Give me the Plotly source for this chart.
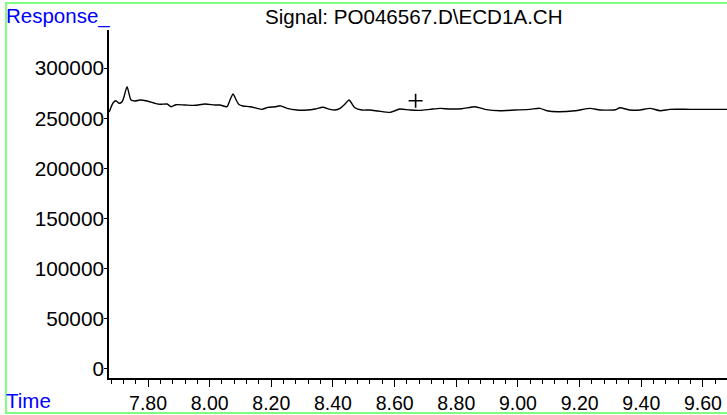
import plotly.graph_objects as go

# chromatogram trace (min, response)
time_min = [7.674, 7.687, 7.696, 7.706, 7.716, 7.722, 7.732, 7.745, 7.758, 7.774,
            7.797, 7.823, 7.839, 7.862, 7.875, 7.891, 7.920, 7.952, 7.985, 8.017,
            8.034, 8.056, 8.066, 8.076, 8.086, 8.095, 8.108, 8.131, 8.154, 8.170,
            8.189, 8.215, 8.228, 8.251, 8.283, 8.316, 8.342, 8.367, 8.390, 8.406,
            8.423, 8.439, 8.452, 8.462, 8.471, 8.494, 8.520, 8.546, 8.585, 8.601,
            8.617, 8.650, 8.682, 8.715, 8.747, 8.780, 8.818, 8.861, 8.893, 8.942,
            8.990, 9.039, 9.071, 9.094, 9.130, 9.185, 9.234, 9.266, 9.315, 9.331,
            9.363, 9.396, 9.428, 9.461, 9.493, 9.558, 9.623, 9.678]
response = [256200, 265500, 267500, 264900, 266500, 271200, 281500, 268200, 267200, 268200,
            267200, 264900, 263900, 264200, 261500, 263500, 263200, 262900, 264200, 263200,
            263200, 261500, 268200, 274200, 268200, 263700, 262200, 261500, 259900, 258900,
            260900, 261500, 262500, 259900, 258200, 258200, 259200, 260900, 258900, 258200,
            259900, 264200, 268200, 264200, 260500, 258200, 258200, 257200, 255900, 257500,
            259200, 258200, 257900, 258900, 259900, 259200, 259500, 261500, 258900, 257500,
            258200, 258900, 259900, 257500, 256500, 257500, 259900, 258200, 258500, 260500,
            258200, 258200, 259900, 257500, 258900, 258900, 258900, 258900]

marker_time = [8.668]
marker_response = [267500]

signal_name = "Signal: PO046567.D\\ECD1A.CH"

FONT = "Liberation Sans, Arial, sans-serif"

fig = go.Figure()
fig.add_trace(go.Scatter(x=time_min, y=response, mode="lines",
                         line=dict(color="black", width=1.4, shape="spline", smoothing=0.6),
                         showlegend=False))
fig.add_trace(go.Scatter(x=marker_time, y=marker_response, mode="markers",
                         marker=dict(symbol="cross-thin", size=10,
                                     line=dict(color="black", width=1.6)),
                         showlegend=False))

fig.update_layout(
    width=727, height=415,
    margin=dict(l=109, r=0, t=30, b=37),
    plot_bgcolor="white", paper_bgcolor="white",
    font=dict(family=FONT, size=20.5, color="black"),
    xaxis=dict(range=[7.6735, 9.678], tick0=7.8, dtick=0.2, tickformat=".2f",
               ticks="outside", ticklen=7, tickwidth=1.2, tickcolor="black",
               minor=dict(ticks="outside", dtick=0.04, ticklen=4, tickcolor="black", tickwidth=1.2),
               showline=True, linecolor="black", linewidth=1.5, showgrid=False,
               zeroline=False, tickfont=dict(size=19.5)),
    yaxis=dict(range=[-9000, 338000], dtick=50000, tickformat="d",
               ticks="outside", ticklen=3, tickwidth=1.2, tickcolor="black",
               ticklabelstandoff=-4,
               showline=True, linecolor="black", linewidth=1.5, showgrid=False,
               zeroline=False, tickfont=dict(size=20.8)),
    shapes=[dict(type="rect", xref="paper", yref="paper",
                 x0=-0.1667, x1=1.02, y0=-0.1006, y1=1.0776,
                 line=dict(color="#80ff80", width=2))],
    annotations=[
        dict(text="Response_", xref="paper", yref="paper", x=-0.170, y=1.0388,
             xanchor="left", yanchor="middle", showarrow=False,
             font=dict(color="#0000ff", size=20.5)),
        dict(text="Time", xref="paper", yref="paper", x=-0.170, y=-0.066,
             xanchor="left", yanchor="middle", showarrow=False,
             font=dict(color="#0000ff", size=20.5)),
        dict(text=signal_name, xref="paper", yref="paper", x=0.4935, y=1.0388,
             xanchor="center", yanchor="middle", showarrow=False,
             font=dict(color="black", size=20.6)),
    ],
)

fig.write_html("out.html", config={"displayModeBar": False},
               post_script="document.body.style.margin='0';")
